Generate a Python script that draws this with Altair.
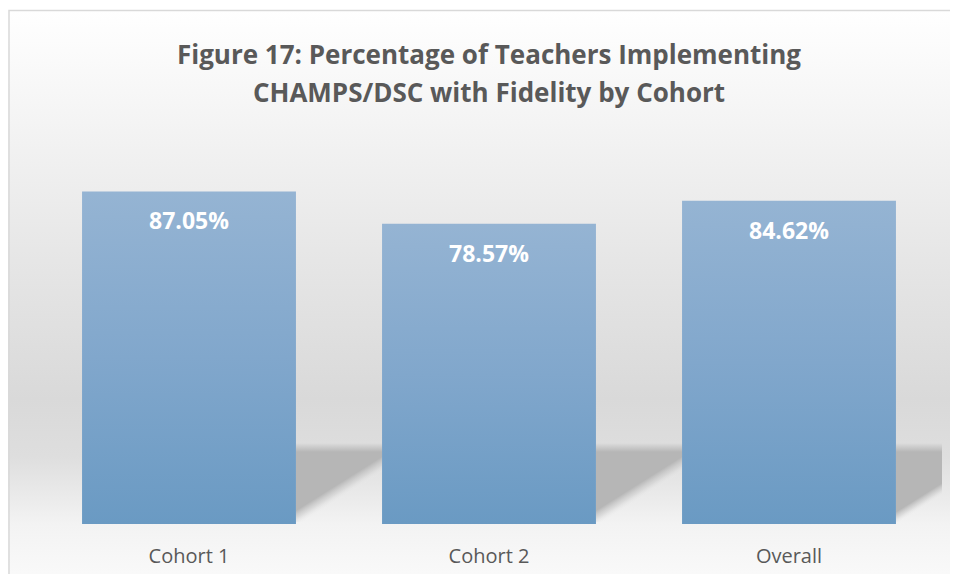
import altair as alt
import pandas as pd

categories = ["Cohort 1", "Cohort 2", "Overall"]
values = [87.05, 78.57, 84.62]
labels = [f"{v:.2f}%" for v in values]
title_lines = ["Figure 17: Percentage of Teachers Implementing",
               "CHAMPS/DSC with Fidelity by Cohort"]

df = pd.DataFrame({"cohort": categories, "value": values, "label": labels})
one = pd.DataFrame({"k": [0]})
title_df = pd.DataFrame({"t": ["\n".join(title_lines)]})

W, H = 900, 382

bar_grad = alt.LinearGradient(
    gradient="linear", x1=0, x2=0, y1=0, y2=1,
    stops=[alt.GradientStop(color="#95b4d3", offset=0),
           alt.GradientStop(color="#81a7cc", offset=0.5),
           alt.GradientStop(color="#6a9ac3", offset=1)])

bg_grad = alt.LinearGradient(
    gradient="linear", x1=0, x2=0, y1=0, y2=1,
    stops=[alt.GradientStop(color="#ffffff", offset=0),
           alt.GradientStop(color="#f6f6f6", offset=0.16),
           alt.GradientStop(color="#e7e7e7", offset=0.42),
           alt.GradientStop(color="#d9d9d9", offset=0.68),
           alt.GradientStop(color="#dedede", offset=0.78),
           alt.GradientStop(color="#f3f3f3", offset=0.90),
           alt.GradientStop(color="#fafafa", offset=1)])

background = alt.Chart(one).mark_rect(fill=bg_grad).encode(
    x=alt.value(-31), x2=alt.value(950), y=alt.value(-132), y2=alt.value(440))

# decorative floor shadows to the right of each bar (pixel geometry, style only)
SH_TOP, SH_BOT = 301, 380          # view y of shadow band
SH_H = SH_BOT - SH_TOP
DROP_L, SLOPE = 74, 54 / 86        # lower edge: px below band top at left, rise per px


def gap_shadow(x0, x1):
    w = x1 - x0
    nyl = DROP_L / SH_H
    nyr = (DROP_L - SLOPE * w) / SH_H
    dy = nyr - nyl
    mx, my = 0.5, (nyl + nyr) / 2
    px, py = -dy, 1.0
    s = 0.35
    grad = alt.LinearGradient(
        gradient="linear",
        x1=mx - px * s, y1=my - py * s, x2=mx + px * s, y2=my + py * s,
        stops=[alt.GradientStop(color="rgba(182,182,182,1)", offset=0),
               alt.GradientStop(color="rgba(182,182,182,1)", offset=0.42),
               alt.GradientStop(color="rgba(200,200,200,0.5)", offset=0.52),
               alt.GradientStop(color="rgba(240,240,240,0)", offset=0.62),
               alt.GradientStop(color="rgba(240,240,240,0)", offset=1)])
    return alt.Chart(one).mark_rect(fill=grad).encode(
        x=alt.value(x0), x2=alt.value(x1), y=alt.value(SH_TOP), y2=alt.value(SH_BOT))


shadows = [gap_shadow(257, 343), gap_shadow(557, 643), gap_shadow(857, 903)]

top_fade = alt.Chart(one).mark_rect(fill=alt.LinearGradient(
    gradient="linear", x1=0, x2=0, y1=0, y2=1,
    stops=[alt.GradientStop(color="rgba(221,221,221,1)", offset=0),
           alt.GradientStop(color="rgba(221,221,221,0)", offset=1)])).encode(
    x=alt.value(257), x2=alt.value(903), y=alt.value(SH_TOP), y2=alt.value(SH_TOP + 9))

border = alt.Chart(one).mark_rect(fillOpacity=0, stroke="#d9d9d9", strokeWidth=1.5).encode(
    x=alt.value(-30), x2=alt.value(960), y=alt.value(-131.5), y2=alt.value(460))

title = alt.Chart(title_df).mark_text(
    font="Open Sans", fontSize=26, fontWeight="bold", color="#595959",
    lineBreak="\n", lineHeight=38, baseline="top", align="center").encode(
    x=alt.value(W / 2), y=alt.value(-99.5), text="t:N")

base = alt.Chart(df).encode(
    x=alt.X("cohort:N", sort=categories,
            scale=alt.Scale(paddingInner=0.287, paddingOuter=0.1435),
            axis=alt.Axis(title=None, labelAngle=0, domain=False, ticks=False,
                          labelFont="Open Sans", labelFontSize=20,
                          labelColor="#595959", labelPadding=22, zindex=2))
)

bars = base.mark_bar(color=bar_grad).encode(
    y=alt.Y("value:Q", scale=alt.Scale(domain=[0, 100]), axis=None))

text = base.mark_text(baseline="alphabetic", dy=38, font="Open Sans", fontSize=23,
                      fontWeight="bold", color="white").encode(
    y=alt.Y("value:Q", scale=alt.Scale(domain=[0, 100]), axis=None),
    text="label:N")

chart = alt.layer(background, *shadows, top_fade, bars, text, border, title).properties(
    width=W, height=H,
    autosize=alt.AutoSizeParams(type="none"),
    padding={"left": 31, "top": 134, "right": 11, "bottom": 50},
).configure_view(stroke=None).configure(background="white")

chart.save("out.html", embed_options={"renderer": "svg", "actions": False})
